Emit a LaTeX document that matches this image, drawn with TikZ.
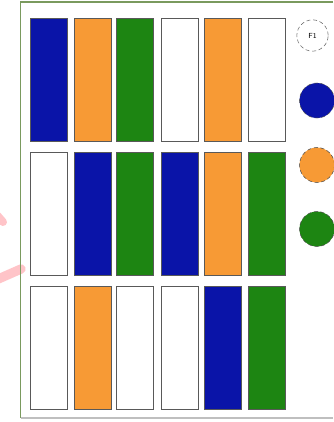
\documentclass[tikz,border=0pt]{standalone}
\usepackage{tikz}
\usetikzlibrary{positioning}
\definecolor{bblue}{HTML}{0A14A8}
\definecolor{borange}{HTML}{F79A35}
\definecolor{bgreen}{HTML}{1D8512}
\definecolor{framegreen}{HTML}{7A9A5E}
\definecolor{marksred}{HTML}{FFC4C8}

\begin{document}
\begin{tikzpicture}[x=0.75pt, y=-0.75pt]
        \tikzset{bar/.style={draw=black!65, line width=0.6pt, minimum width=27.75pt, minimum height=92.25pt, inner sep=0pt},
                 dot/.style={circle, draw=black!70, densely dashed, line width=0.4pt, minimum size=26.25pt, inner sep=0pt}}
        \useasboundingbox (0,0) rectangle (333,422);
        % pink marks on the left edge
        \draw[marksred, line width=6pt, line cap=round] (-4,214) -- (3,222);
        \draw[marksred, line width=7pt, line cap=round] (-4,280) -- (21,269);
        % frame
        \draw[framegreen, line width=1pt] (333,2) -- (20.7,2) -- (20.7,418);
        \draw[black!25, line width=0.8pt] (20.7,418) -- (333,418);
        
        % first row
        \foreach \x/\c [count=\i] in {48.5/bblue, 92.8/borange, 135.3/bgreen, 180.3/white, 222.7/borange, 266.8/white}
            \node[bar, fill=\c] (r1c\i) at (\x,79.5) {};
        % second row
        \foreach \x/\c [count=\i] in {48.5/white, 92.8/bblue, 135.3/bgreen, 180.3/bblue, 222.7/borange, 266.8/bgreen}
            \node[bar, fill=\c] (r2c\i) at (\x,214) {};
        % third row
        \foreach \x/\c [count=\i] in {48.5/white, 92.8/borange, 135.3/white, 180.3/white, 222.7/bblue, 266.8/bgreen}
            \node[bar, fill=\c] (r3c\i) at (\x,348.3) {};
        
        % legend circles
        \node[dot, fill=white, minimum size=23.5pt, draw=black!60] (f1) at (312.5,35.5) {\fontsize{5.5}{6}\selectfont\sffamily F1};
        \node[dot, fill=bblue] (dblue) at (317,100.5) {};
        \node[dot, fill=borange] (dorange) at (317,165) {};
        \node[dot, fill=bgreen] (dgreen) at (317,229) {};
\end{tikzpicture}
\end{document}
